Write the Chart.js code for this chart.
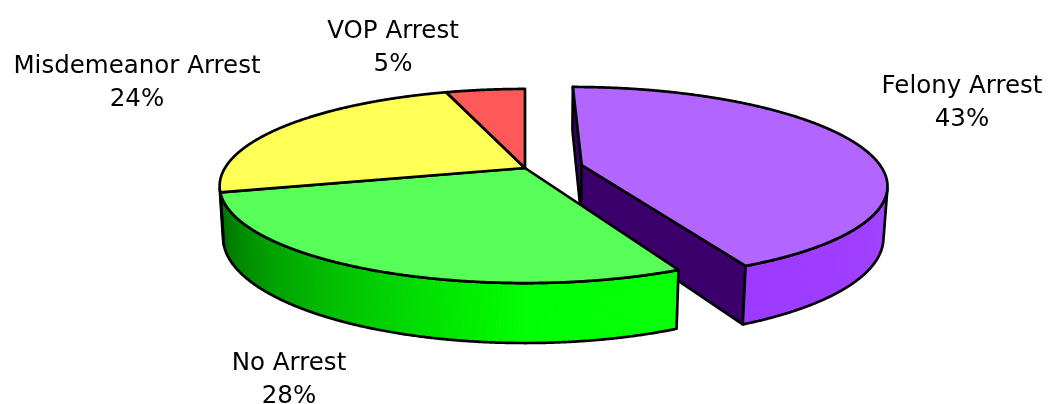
<!DOCTYPE html>
<html>
<head>
<meta charset="utf-8">
<script src="https://cdn.jsdelivr.net/npm/chart.js@4.4.0/dist/chart.umd.min.js"></script>
<style>
  html, body { margin: 0; padding: 0; background: #ffffff; }
  #contenedor_grafico { width: 1050px; height: 404px; }
</style>
</head>
<body>
<div id="contenedor_grafico"><canvas id="grafico_arrestos" width="1050" height="404"></canvas></div>
<script>

// datos del grafico
var categorias = ["Felony Arrest", "No Arrest", "Misdemeanor Arrest", "VOP Arrest"];
var valores = [43, 28, 24, 5];
var colores_tapa = ["#b266ff", "#58ff58", "#ffff55", "#ff5858"];
var colores_pared = ["#9933ff", "#00ff00", "#ffff00", "#ff0000"];
var separacion = [0.19, 0, 0, 0];   // porcion separada (solo Felony)

// vista 3D (estilo pie 3D de Excel)
var elevacion = 18.2 * Math.PI / 180;
var distancia = 5.12;
var grosor = 0.178;
var escala = 1.786;
var ancho_linea = 2.7;

function proyectar(el, X, Y, Z)
{
    var s = Math.sin(elevacion), c = Math.cos(elevacion);
    var S = el.outerRadius * escala;
    var k = distancia / (distancia - Y * s - Z * c);
    return { x: el.x + S * X * k, y: el.y - S * (Y * c - Z * s) * k };
}

function borde(el, i, ang, Y)
{
    return proyectar(el, Math.cos(ang) + separacion[i], Y, Math.sin(ang) - (separacion[i] ? 0.03 : 0));
}

function centro(el, i, Y)
{
    return proyectar(el, separacion[i], Y, separacion[i] ? -0.03 : 0);
}

function mezclar(hex, f)
{
    var r = parseInt(hex.substr(1, 2), 16), g = parseInt(hex.substr(3, 2), 16), b = parseInt(hex.substr(5, 2), 16);
    if (f >= 1) {
        var w = f - 1;
        r = r + (255 - r) * w; g = g + (255 - g) * w; b = b + (255 - b) * w;
    } else {
        r = r * f; g = g * f; b = b * f;
    }
    return "rgb(" + Math.round(r) + "," + Math.round(g) + "," + Math.round(b) + ")";
}

function luz(ang)
{
    var d = ((ang * 180 / Math.PI) % 360 + 360) % 360;
    if (d <= 90) return 1 + 0.1 * (90 - d) / 90;
    return Math.max(0.4, 1 - 0.58 * (d - 90) / 75);
}

function visible(i, ang)
{
    var c = Math.cos(elevacion);
    return 1 + separacion[i] * Math.cos(ang) - (separacion[i] ? 0.03 : 0) * Math.sin(ang) - distancia * c * Math.sin(ang) < 0;
}

function poligono(ctx, pts, relleno, linea)
{
    ctx.beginPath();
    ctx.moveTo(pts[0].x, pts[0].y);
    for (var j = 1; j < pts.length; j++) ctx.lineTo(pts[j].x, pts[j].y);
    ctx.closePath();
    if (relleno) { ctx.fillStyle = relleno; ctx.fill(); }
    if (linea) { ctx.strokeStyle = linea; ctx.stroke(); }
}

function $each(lista, fn)
{
    for (var i = 0; i < lista.length; i++) fn(i, lista[i]);
}

var pie3d = {
    id: 'pie3d',
    beforeDatasetsDraw: function (chart, args, opts)
    {
        var ctx = chart.ctx;
        var arcos = chart.getDatasetMeta(0).data;
        var paso = 0.25 * Math.PI / 180;
        var n = arcos.length;
        ctx.save();
        ctx.lineJoin = "round";

        // caras radiales de la porcion separada
        $each(arcos, function (i, el) {
            var vecino = separacion[i] || separacion[(i + 1) % n] || separacion[(i + n - 1) % n];
            if (!vecino) return;
            var lados = [[el.startAngle, 1], [el.endAngle, -1]];
            for (var l = 0; l < 2; l++) {
                var a = lados[l][0], sg = lados[l][1];
                var nx = sg * Math.sin(a), nz = -sg * Math.cos(a);
                var ez = separacion[i] ? -0.03 : 0;
                var prod = separacion[i] * nx + ez * nz - distancia * Math.cos(elevacion) * nz;
                if (prod >= 0) continue;
                ctx.lineWidth = ancho_linea;
                poligono(ctx, [centro(el, i, 0), borde(el, i, a, 0), borde(el, i, a, -grosor), centro(el, i, -grosor)], "#3b006c", "#000");
            }
        });

        // paredes exteriores
        $each(arcos, function (i, el) {
            var angs = [];
            for (var a = el.startAngle; a < el.endAngle; a += paso) if (visible(i, a)) angs.push(a);
            if (visible(i, el.endAngle)) angs.push(el.endAngle);
            if (angs.length < 2) return;
            ctx.lineWidth = 1;
            for (var j = 0; j < angs.length - 1; j++) {
                var col = mezclar(colores_pared[i], luz((angs[j] + angs[j + 1]) / 2));
                poligono(ctx, [borde(el, i, angs[j], 0), borde(el, i, angs[j + 1], 0), borde(el, i, angs[j + 1], -grosor), borde(el, i, angs[j], -grosor)], col, col);
            }
            var contorno = [];
            for (var j = 0; j < angs.length; j++) contorno.push(borde(el, i, angs[j], 0));
            for (var j = angs.length - 1; j >= 0; j--) contorno.push(borde(el, i, angs[j], -grosor));
            ctx.lineWidth = ancho_linea;
            poligono(ctx, contorno, null, "#000");
        });

        // tapas
        $each(arcos, function (i, el) {
            var pts = [centro(el, i, 0)];
            for (var a = el.startAngle; a < el.endAngle; a += paso) pts.push(borde(el, i, a, 0));
            pts.push(borde(el, i, el.endAngle, 0));
            ctx.lineWidth = ancho_linea;
            poligono(ctx, pts, colores_tapa[i], "#000");
        });

        // etiquetas
        var total = 0;
        for (var i = 0; i < valores.length; i++) total += valores[i];
        ctx.fillStyle = "#000";
        ctx.font = opts.fuente;
        ctx.textAlign = "center";
        ctx.textBaseline = "alphabetic";
        for (var i = 0; i < categorias.length; i++) {
            var p = opts.posiciones[i];
            ctx.fillText(categorias[i], p[0], p[1]);
            ctx.fillText(Math.round(valores[i] / total * 100) + "%", p[0], p[1] + opts.interlineado);
        }
        ctx.restore();
        return false;
    }
};

var grafico = new Chart(document.getElementById("grafico_arrestos"), {
    type: 'pie',
    data: {
        labels: categorias,
        datasets: [{
            data: valores,
            backgroundColor: colores_tapa,
            borderWidth: 0
        }]
    },
    options: {
        responsive: false,
        animation: false,
        events: [],
        layout: { padding: { top: 0, bottom: 68, left: 0, right: 0 } },
        plugins: {
            legend: { display: false },
            tooltip: { enabled: false },
            pie3d: {
                fuente: '24.5px "DejaVu Sans"',
                interlineado: 33,
                posiciones: [[962, 93], [289, 370], [137, 73], [393, 38]]
            }
        }
    },
    plugins: [pie3d]
});
</script>
</body>
</html>
